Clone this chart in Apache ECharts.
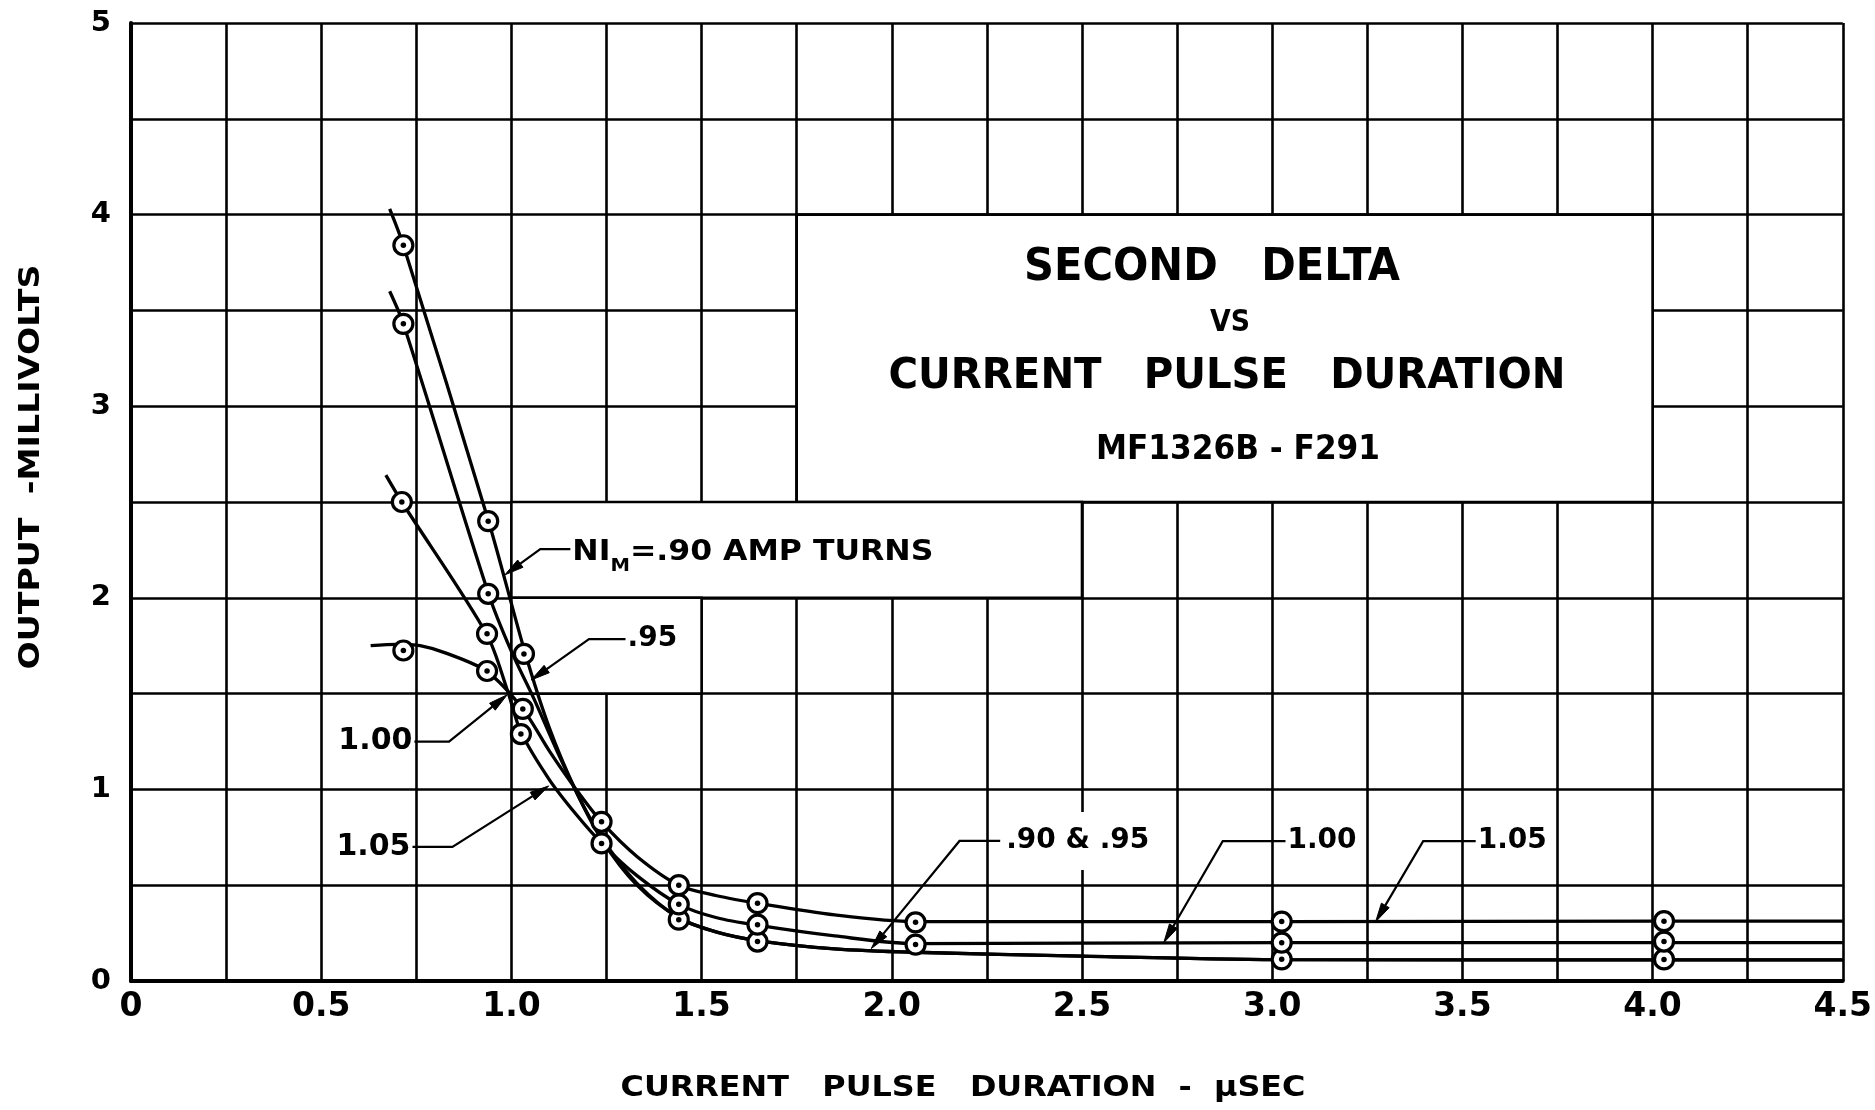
<!DOCTYPE html>
<html>
<head>
<meta charset="utf-8">
<script src="https://cdn.jsdelivr.net/npm/echarts@6/dist/echarts.min.js"></script>
<style>html,body{margin:0;padding:0;background:#fff}#chart{width:1875px;height:1110px}</style>
</head>
<body>
<div id="chart"></div>
<script>
// ---------------- data ----------------
const xTickLabels = ['0', '0.5', '1.0', '1.5', '2.0', '2.5', '3.0', '3.5', '4.0', '4.5'];
const yTickLabels = ['0', '1', '2', '3', '4', '5'];
const seriesNames = ['NIM .90', 'NIM .95', 'NIM 1.00', 'NIM 1.05'];

// traced faired curves [pulse duration µs, output mV]
const curve090 = [[0.68,4.03],[0.716,3.84],[0.94,2.40],[1.035,1.72],[1.10,1.32],[1.17,0.99],[1.24,0.73],[1.33,0.50],[1.44,0.33],[1.54,0.255],[1.65,0.21],[1.85,0.168],[2.06,0.15],[2.5,0.13],[3.03,0.112],[4.03,0.11],[4.5,0.11]];
const curve095 = [[0.68,3.60],[0.716,3.43],[0.94,2.02],[1.00,1.72],[1.06,1.47],[1.12,1.20],[1.18,0.95],[1.24,0.74],[1.33,0.51],[1.44,0.33],[1.54,0.255],[1.65,0.21],[1.85,0.168],[2.06,0.15],[2.5,0.13],[3.03,0.112],[4.03,0.11],[4.5,0.11]];
const curve100 = [[0.67,2.64],[0.712,2.50],[0.935,1.81],[0.989,1.52],[1.025,1.30],[1.10,1.05],[1.17,0.87],[1.237,0.72],[1.33,0.55],[1.44,0.40],[1.54,0.33],[1.65,0.29],[1.85,0.235],[2.06,0.195],[2.5,0.198],[3.03,0.20],[4.03,0.20],[4.5,0.20]];
const curve105 = [[0.63,1.75],[0.70,1.757],[0.76,1.75],[0.83,1.71],[0.936,1.615],[1.03,1.42],[1.10,1.20],[1.17,1.00],[1.237,0.83],[1.33,0.65],[1.44,0.50],[1.54,0.445],[1.65,0.405],[1.85,0.345],[2.06,0.31],[2.5,0.31],[3.03,0.31],[4.03,0.312],[4.5,0.312]];

// measured points (circles)
const points090 = [[0.716,3.84],[0.939,2.40],[1.033,1.707],[1.44,0.32],[1.647,0.206],[3.025,0.113],[4.03,0.1125]];
const points095 = [[0.716,3.43],[0.939,2.021]];
const points100 = [[0.712,2.50],[0.936,1.812],[1.025,1.289],[1.237,0.718],[1.44,0.40],[1.647,0.294],[2.0625,0.19],[3.025,0.20],[4.03,0.206]];
const points105 = [[0.716,1.725],[0.936,1.618],[1.03,1.42],[1.237,0.831],[1.44,0.50],[1.647,0.406],[2.0625,0.306],[3.025,0.31],[4.03,0.3125]];

// callout texts and their leaders: [text end x, y, elbow x, y, arrow tip x, y]
const calloutTexts = ['NI_M=.90 AMP TURNS', '.95', '1.00', '1.05', '.90 & .95', '1.00', '1.05'];
const calloutLeaders = [
  [1.155,2.254, 1.076,2.254, 0.983,2.12],
  [1.300,1.784, 1.204,1.784, 1.052,1.571],
  [0.745,1.249, 0.836,1.249, 0.989,1.494],
  [0.740,0.700, 0.845,0.700, 1.098,1.018],
  [2.285,0.731, 2.178,0.731, 1.946,0.169],
  [3.035,0.730, 2.870,0.730, 2.715,0.200],
  [3.535,0.730, 3.397,0.730, 3.272,0.309]
];
// blank (white) panels on the graph paper: [x0, y0, x1, y1]
const blankPanels = [[1.75,2.5,4.0,4.0],[1.0,2.0,2.5,2.5],[1.0,1.5,1.5,2.0]];

const titleTexts = ['SECOND   DELTA', 'VS', 'CURRENT   PULSE   DURATION', 'MF1326B - F291'];
const xAxisTitle = 'CURRENT   PULSE   DURATION  -  \u03bcSEC';
const yAxisTitle = 'OUTPUT  -MILLIVOLTS';

// ---------------- presentation ----------------
const FAM = '"DejaVu Sans", sans-serif';
const CFAM = '"DejaVu Sans Condensed", "DejaVu Sans", sans-serif';
const mctx = document.createElement('canvas').getContext('2d');
function fitScale(text, size, weight, fam, target) {
  mctx.font = weight + ' ' + size + 'px ' + fam;
  const w = mctx.measureText(text).width;
  return w > 0 ? target / w : 1;
}

const titleLayout = [
  {cx:1212, cy:268, size:45, weight:'bold', fam:CFAM, w:376},
  {cx:1230, cy:323, size:30, weight:'bold', fam:FAM, w:40},
  {cx:1227, cy:377, size:43, weight:'bold', fam:CFAM, w:677},
  {cx:1238, cy:450, size:34, weight:'bold', fam:CFAM, w:284}
];
const graphicEls = titleTexts.map((t, i) => {
  const L = titleLayout[i];
  return {
    type: 'text', x: L.cx, y: L.cy, z: 100,
    scaleX: fitScale(t, L.size, L.weight, L.fam, L.w),
    style: {text: t, x: 0, y: 0, align: 'center', verticalAlign: 'middle',
      fontSize: L.size, fontWeight: L.weight, fontFamily: L.fam, fill: '#000'}
  };
});
graphicEls.push({
  type: 'text', x: 963, y: 1088, z: 100,
  scaleX: fitScale(xAxisTitle, 29, 'bold', FAM, 685),
  style: {text: xAxisTitle, x: 0, y: 0, align: 'center', verticalAlign: 'middle',
    fontSize: 29, fontWeight: 'bold', fontFamily: FAM, fill: '#000'}
});
graphicEls.push({
  type: 'text', x: 31, y: 467, z: 100, rotation: Math.PI / 2,
  scaleX: fitScale(yAxisTitle, 29, 'bold', FAM, 405),
  style: {text: yAxisTitle, x: 0, y: 0, align: 'center', verticalAlign: 'middle',
    fontSize: 29, fontWeight: 'bold', fontFamily: FAM, fill: '#000'}
});

const calloutStyle = [
  {align:'left', size:29, weight:'bold', w:361},
  {align:'left', size:28, weight:'bold'},
  {align:'right', size:30, weight:'bold'},
  {align:'right', size:30, weight:'bold'},
  {align:'left', size:28, weight:'bold', bg:true},
  {align:'left', size:28, weight:'bold'},
  {align:'left', size:28, weight:'bold'}
];

const chart = echarts.init(document.getElementById('chart'), null, {renderer: 'canvas'});

function curveSeries(name, data) {
  return {
    name: name, type: 'line', data: data, z: 3, smooth: 0.3,
    symbol: 'none', lineStyle: {color: '#000', width: 3.3}, silent: true
  };
}
function circleSeries(name, data) {
  return [{
    name: name, type: 'scatter', data: data, z: 4, symbol: 'circle', symbolSize: 19,
    itemStyle: {color: '#fff', borderColor: '#000', borderWidth: 3.2, opacity: 1}
  }, {
    name: name, type: 'scatter', data: data, z: 5, symbol: 'circle', symbolSize: 5.5,
    itemStyle: {color: '#000', opacity: 1}
  }];
}

const axisLabelCommon = {color: '#000', fontFamily: FAM, fontWeight: 'bold'};

const option = {
  animation: false,
  backgroundColor: '#fff',
  grid: {left: 131, right: 19, top: 23, bottom: 129, containLabel: false},
  xAxis: {
    type: 'value', min: 0, max: 4.5, interval: 0.25,
    axisLine: {show: true, onZero: false, lineStyle: {color: '#000', width: 4}},
    axisTick: {show: false},
    splitLine: {show: true, lineStyle: {color: '#000', width: 2.6}},
    axisLabel: Object.assign({}, axisLabelCommon, {
      fontSize: 33, margin: 10,
      formatter: v => {
        const k = Math.round(v * 2);
        return Math.abs(v * 2 - k) < 1e-6 ? xTickLabels[k] : '';
      }
    })
  },
  yAxis: {
    type: 'value', min: 0, max: 5, interval: 0.5,
    axisLine: {show: true, onZero: false, lineStyle: {color: '#000', width: 4}},
    axisTick: {show: false},
    splitLine: {show: true, lineStyle: {color: '#000', width: 2.6}},
    axisLabel: Object.assign({}, axisLabelCommon, {
      fontSize: 29, margin: 20,
      formatter: v => {
        const k = Math.round(v);
        return Math.abs(v - k) < 1e-6 ? yTickLabels[k] : '';
      }
    })
  },
  graphic: graphicEls,
  series: [
    {
      type: 'custom', name: 'panels', z: 1, silent: true,
      data: blankPanels, encode: {x: [0, 2], y: [1, 3]},
      renderItem: (params, api) => {
        const a = api.coord([api.value(0), api.value(1)]);
        const b = api.coord([api.value(2), api.value(3)]);
        return {
          type: 'rect',
          shape: {x: a[0], y: b[1], width: b[0] - a[0], height: a[1] - b[1]},
          style: {fill: '#fff', stroke: '#000', lineWidth: 2.6}
        };
      }
    },
    curveSeries(seriesNames[0], curve090),
    curveSeries(seriesNames[1], curve095),
    curveSeries(seriesNames[2], curve100),
    curveSeries(seriesNames[3], curve105),
    ...circleSeries(seriesNames[0], points090),
    ...circleSeries(seriesNames[1], points095),
    ...circleSeries(seriesNames[2], points100),
    ...circleSeries(seriesNames[3], points105),
    {
      type: 'custom', name: 'callouts', z: 6, silent: true,
      data: calloutLeaders, encode: {x: [0, 2, 4], y: [1, 3, 5]},
      renderItem: (params, api) => {
        const i = params.dataIndex;
        const s = calloutStyle[i];
        const a = api.coord([api.value(0), api.value(1)]);
        const b = api.coord([api.value(2), api.value(3)]);
        const t = api.coord([api.value(4), api.value(5)]);
        const dx = t[0] - b[0], dy = t[1] - b[1];
        const L = Math.hypot(dx, dy), ux = dx / L, uy = dy / L;
        const len = 19, hw = 4.5;
        const base = [t[0] - ux * len, t[1] - uy * len];
        const p1 = [base[0] - uy * hw, base[1] + ux * hw];
        const p2 = [base[0] + uy * hw, base[1] - ux * hw];
        const children = [];
        let textEl;
        const tx = a[0] + (s.align === 'left' ? 2 : -2);
        if (i === 0) {
          const main1 = 'NI', sub = 'M', main2 = '=.90 AMP TURNS';
          mctx.font = 'bold 29px ' + FAM;
          const w1 = mctx.measureText(main1 + main2).width;
          mctx.font = 'bold 18px ' + FAM;
          const w2 = mctx.measureText(sub).width;
          const sc = s.w / (w1 + w2);
          textEl = {
            type: 'text', x: tx, y: a[1] + 6, scaleX: sc,
            style: {
              text: '{a|' + main1 + '}{s|' + sub + '}{a|' + main2 + '}',
              x: 0, y: 0, align: 'left', verticalAlign: 'middle', fill: '#000',
              rich: {
                a: {fontSize: 29, fontWeight: 'bold', fontFamily: FAM, verticalAlign: 'top', lineHeight: 34},
                s: {fontSize: 18, fontWeight: 'bold', fontFamily: FAM, verticalAlign: 'top', lineHeight: 22, padding: [19, 0, 0, 0]}
              }
            }
          };
        } else {
          textEl = {
            type: 'text', x: tx, y: a[1],
            style: {
              text: calloutTexts[i], x: 0, y: 0, align: s.align, verticalAlign: 'middle',
              fontSize: s.size, fontWeight: s.weight, fontFamily: FAM, fill: '#000',
              backgroundColor: s.bg ? '#fff' : null,
              padding: s.bg ? [15, 4, 15, 4] : 0
            }
          };
        }
        children.push(textEl);
        children.push({type: 'polyline', shape: {points: [a, b, base]},
          style: {stroke: '#000', lineWidth: 2.2, fill: null}});
        children.push({type: 'polygon', shape: {points: [t, p1, p2]},
          style: {fill: '#000', stroke: '#000', lineWidth: 1}});
        return {type: 'group', children: children};
      }
    }
  ]
};
chart.setOption(option);
</script>
</body>
</html>
